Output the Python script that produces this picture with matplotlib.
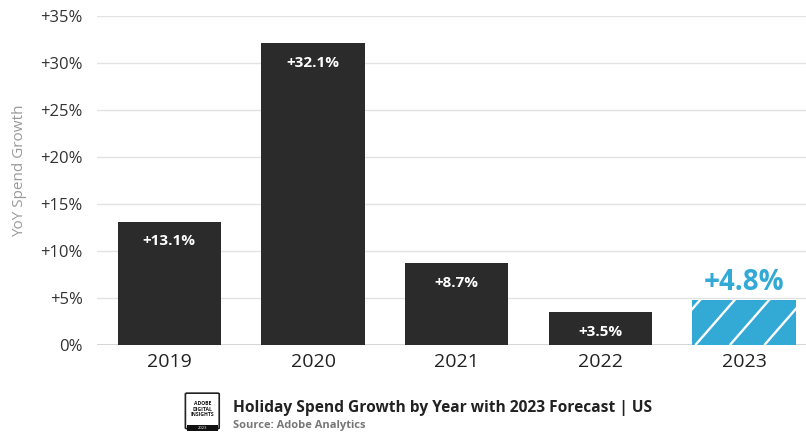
import matplotlib.pyplot as plt
import matplotlib.patches as mpatches
import numpy as np

plt.rcParams['font.family'] = ['Open Sans', 'DejaVu Sans']

# data
years = ['2019', '2020', '2021', '2022', '2023']
growth = [13.1, 32.1, 8.7, 3.5, 4.8]
labels = ['+13.1%', '+32.1%', '+8.7%', '+3.5%', '+4.8%']
yticks = [0, 5, 10, 15, 20, 25, 30, 35]
ytick_labels = ['0%', '+5%', '+10%', '+15%', '+20%', '+25%', '+30%', '+35%']

dark = '#2b2b2b'
blue = '#33aad6'

fig = plt.figure(figsize=(8.06, 4.33), dpi=100)
ax = fig.add_axes([0.120, 0.203, 0.880, 0.760])

x = np.arange(len(years))
colors = [dark] * 4 + [blue]
bars = ax.bar(x, growth, width=0.72, color=colors, zorder=3)

# forecast hatching: white diagonal stripes clipped to the last bar
fc = bars[-1]
bx0 = fc.get_x()
for k in range(-2, 6):
    xs = np.array([bx0 + 0.02 + k * 0.24, bx0 + 0.02 + k * 0.24 + 0.4])
    ys = np.array([0, 0.4 * 143.6 * 1.15 / 9.4])
    ln, = ax.plot(xs, ys, color='white', lw=1.7, zorder=4, solid_capstyle='butt')
    ln.set_clip_path(fc)

# value labels
for i, (v, lab) in enumerate(zip(growth, labels)):
    if i < 4:
        ax.annotate(lab, (x[i], v), xytext=(0, -9), textcoords='offset points',
                    ha='center', va='top', color='white', fontsize=11,
                    fontweight='bold', zorder=5)
    else:
        ax.annotate(lab, (x[i], v), xytext=(0, 2), textcoords='offset points',
                    ha='center', va='bottom', color=blue, fontsize=20,
                    fontweight='bold', zorder=5)

ax.set_xlim(-0.505, 4.43)
ax.set_ylim(0, 35)
ax.set_yticks(yticks)
ax.set_yticklabels(ytick_labels, fontsize=12, color='#333333')
ax.set_xticks(x)
ax.set_xticklabels(years, fontsize=14, color='#222222')
ax.tick_params(axis='both', length=0)
ax.tick_params(axis='y', pad=10)
ax.tick_params(axis='x', pad=6)
for s in ax.spines.values():
    s.set_visible(False)
ax.grid(axis='y', color='#e3e3e3', lw=1, zorder=0)
ax.axhline(0, color='#cfcfcf', lw=1.2, zorder=2)
ax.set_ylabel('YoY Spend Growth', fontsize=11, color='#9a9a9a', labelpad=10)
ax.yaxis.set_label_coords(-0.098, 0.53)

# logo badge
logo = mpatches.FancyBboxPatch((0.232, 0.012), 0.038, 0.078,
                               boxstyle='round,pad=0.002', transform=fig.transFigure,
                               facecolor='white', edgecolor='#222222', lw=1.2)
fig.patches.append(logo)
strip = mpatches.Rectangle((0.232, 0.005), 0.038, 0.014, transform=fig.transFigure,
                           facecolor='#111111', edgecolor='none')
fig.patches.append(strip)
fig.text(0.251, 0.055, 'ADOBE\nDIGITAL\nINSIGHTS', ha='center', va='center',
         fontsize=3.6, fontweight='bold', color='#111111', linespacing=1.1)
fig.text(0.251, 0.012, '2023', ha='center', va='center', fontsize=3, color='white')

fig.text(0.289, 0.058, 'Holiday Spend Growth by Year with 2023 Forecast | US',
         fontsize=11.2, fontweight='bold', color='#222222', va='center')
fig.text(0.289, 0.018, 'Source: Adobe Analytics', fontsize=8, fontweight='bold',
         color='#777777', va='center')

fig.savefig('out.png', dpi=100)
